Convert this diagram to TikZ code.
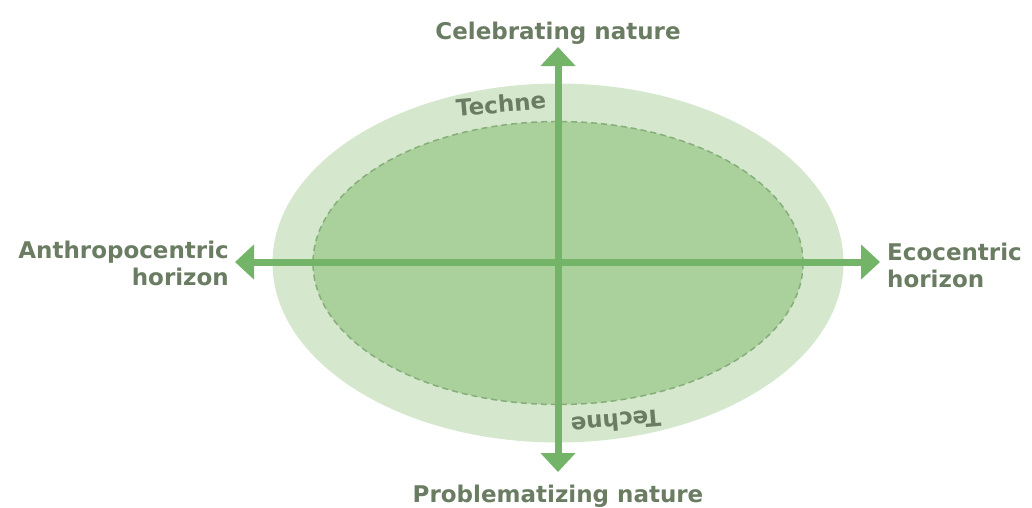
\documentclass[tikz,border=0pt]{standalone}
\usepackage{fontspec}
\setmainfont{DejaVu Sans}
\usepackage{tikz}
\usetikzlibrary{arrows.meta, shapes.geometric}
\definecolor{outergreen}{HTML}{D5E8CD}
\definecolor{innergreen}{HTML}{AAD09C}
\definecolor{dashgreen}{HTML}{86AE7B}
\definecolor{axisgreen}{HTML}{74B469}
\definecolor{labelgray}{HTML}{6A7C61}

\begin{document}
\begin{tikzpicture}[x=1pt, y=-1pt,
    lbl/.style={text=labelgray, font=\fontsize{23}{27}\selectfont\bfseries, inner sep=0pt},
    axis/.style={draw=axisgreen, line width=7pt, {Triangle[length=19pt, width=34pt]}-{Triangle[length=19pt, width=34pt]}}]
  \useasboundingbox (0,0) rectangle (1032,507);
  \node[ellipse, fill=outergreen, minimum width=571, minimum height=359, inner sep=0pt] (outer) at (558,263) {};
  \node[ellipse, fill=innergreen, draw=dashgreen, dash pattern=on 6pt off 4pt, line width=1.5pt, minimum width=490, minimum height=283, inner sep=0pt] (inner) at (558,263) {};
  \coordinate (N) at (558,47);
  \coordinate (S) at (558,472);
  \coordinate (W) at (235,262);
  \coordinate (E) at (880,262);
  \draw[axis] (S) -- (N);
  \draw[axis] (W) -- (E);
  \node[lbl, anchor=base] (celebrating) at (558,39) {Celebrating nature};
  \node[lbl, anchor=base] (problematizing) at (558,502) {Problematizing nature};
  \node[lbl, anchor=east, align=right] (anthropo) at (229,263) {Anthropocentric\\horizon};
  \node[lbl, anchor=west, align=left] (eco) at (887,265) {Ecocentric\\horizon};
  \node[lbl, rotate=5] (techneTop) at (501,104) {Techne};
  \node[lbl, rotate=185] (techneBottom) at (616,422) {Techne};
\end{tikzpicture}
\end{document}
